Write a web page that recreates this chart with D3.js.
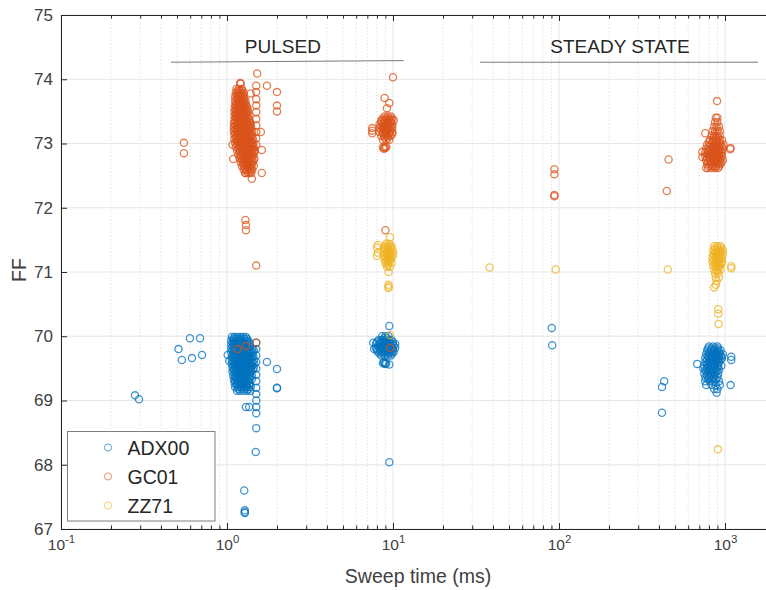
<!DOCTYPE html>
<html><head><meta charset="utf-8">
<script src="https://cdn.jsdelivr.net/npm/d3@7"></script>
<style>
body{margin:0;background:#fff}
svg{display:block}
text{font-family:"Liberation Sans",Arial,Helvetica,sans-serif}
</style>
</head><body>
<svg id="chart" width="766" height="590"></svg>
<script>
// ---------------- DATA ----------------
const seriesNames = ["ADX00", "GC01", "ZZ71"];
const seriesColors = ["#0072BD", "#D95319", "#EDB120"];
const xTickValues = [0.1, 1, 10, 100, 1000];
const xTickExponents = ["-1", "0", "1", "2", "3"];
const yTickValues = [67, 68, 69, 70, 71, 72, 73, 74, 75];
const xLabel = "Sweep time (ms)";
const yLabel = "FF";
const regionLabels = ["PULSED", "STEADY STATE"];

// ADX00: individual points [sweep time, FF]
const adx00Points = [
  [0.279,69.08],[0.295,69.02],[0.51,69.80],[0.535,69.63],[0.598,69.97],[0.615,69.66],[0.688,69.97],[0.707,69.71],
  [1.01,69.71],[1.03,69.62],[1.74,69.60],[2.0,69.49],[2.0,69.20],[2.0,69.19],[1.30,68.90],[1.36,68.90],
  [1.50,68.57],[1.49,68.20],[1.27,67.60],[1.28,67.29],[1.28,67.26],[1.28,67.25],
  [1.50,69.90],[1.50,69.80],[1.50,69.70],[1.50,69.60],[1.50,69.50],[1.50,69.40],[1.50,69.30],[1.50,69.20],
  [1.50,69.10],[1.50,69.00],[1.50,68.90],[1.50,68.80],
  [9.5,70.16],[9.5,68.04],[8.7,69.58],[8.8,69.60],[8.9,69.58],[9.0,69.57],[9.1,69.58],[9.5,69.56],[7.6,69.90],[7.7,69.80],
  [90.4,70.13],[91.0,69.86],
  [417,69.21],[430,69.30],[417,68.81],
  [1090,69.68],[1090,69.63],[1080,69.24],[680,69.57],[890,69.12],[740,69.50]
];
// ADX00 dense clusters: [FF, [sweep times...]]
const adx00Rows = [
  [69.99,[1.07,1.11,1.15,1.20,1.25,1.30]],
  [69.96,[1.09,1.13,1.17,1.22,1.27,1.32]],
  [69.93,[1.06,1.10,1.14,1.19,1.24,1.29,1.34]],
  [69.90,[1.08,1.12,1.16,1.21,1.26,1.32,1.37]],
  [69.87,[1.06,1.10,1.14,1.19,1.24,1.29,1.35]],
  [69.84,[1.08,1.12,1.16,1.21,1.27,1.32,1.38]],
  [69.81,[1.06,1.10,1.14,1.19,1.24,1.30,1.36,1.42]],
  [69.78,[1.08,1.12,1.17,1.22,1.27,1.33,1.39,1.45]],
  [69.75,[1.06,1.10,1.15,1.20,1.25,1.31,1.37,1.43]],
  [69.72,[1.09,1.13,1.17,1.23,1.28,1.34,1.41]],
  [69.69,[1.07,1.11,1.15,1.20,1.26,1.32,1.38,1.44]],
  [69.66,[1.09,1.13,1.18,1.23,1.29,1.35,1.41]],
  [69.63,[1.07,1.11,1.16,1.21,1.26,1.32,1.38,1.45]],
  [69.60,[1.09,1.13,1.18,1.24,1.30,1.36,1.42]],
  [69.57,[1.07,1.11,1.16,1.21,1.27,1.33,1.39,1.45]],
  [69.54,[1.10,1.14,1.19,1.24,1.30,1.36,1.42]],
  [69.51,[1.08,1.12,1.17,1.22,1.27,1.33,1.39,1.45]],
  [69.48,[1.10,1.14,1.19,1.25,1.31,1.37,1.43]],
  [69.45,[1.08,1.12,1.17,1.22,1.28,1.34,1.40]],
  [69.42,[1.11,1.15,1.20,1.26,1.32,1.38]],
  [69.39,[1.09,1.13,1.18,1.23,1.29,1.35,1.41]],
  [69.36,[1.12,1.16,1.21,1.27,1.33,1.38]],
  [69.33,[1.10,1.14,1.19,1.24,1.30,1.36,1.41]],
  [69.30,[1.12,1.17,1.22,1.28,1.34]],
  [69.27,[1.11,1.15,1.20,1.25,1.31,1.37]],
  [69.24,[1.14,1.19,1.24,1.30,1.36]],
  [69.21,[1.12,1.17,1.22,1.27,1.33,1.39]],
  [69.18,[1.17,1.23,1.29,1.35]],
  [69.15,[1.15,1.20,1.26,1.32,1.38]],
  [70.00,[8.6,9.0,9.4]],
  [69.97,[8.8,9.2]],
  [69.94,[8.2,8.6,9.0,9.4,9.8]],
  [69.91,[8.0,8.4,8.8,9.2,9.6,10.0]],
  [69.88,[7.9,8.3,8.7,9.1,9.5,9.9,10.3]],
  [69.85,[8.1,8.5,8.9,9.3,9.7,10.1]],
  [69.82,[7.9,8.3,8.7,9.1,9.5,9.9,10.3]],
  [69.79,[8.0,8.4,8.8,9.2,9.6,10.0]],
  [69.76,[8.1,8.5,8.9,9.3,9.7,10.1]],
  [69.73,[8.3,8.7,9.1,9.5,9.9]],
  [69.70,[8.5,8.9,9.3,9.7]],
  [69.84,[800,850,900]],
  [69.81,[790,830,870,910]],
  [69.78,[780,820,860,900,940]],
  [69.75,[800,840,880,920]],
  [69.72,[770,810,850,890,930,970]],
  [69.69,[790,830,870,910,950]],
  [69.66,[760,800,840,880,920,960]],
  [69.63,[780,820,860,900,940]],
  [69.60,[760,800,840,880,920]],
  [69.57,[780,820,860,900]],
  [69.54,[750,790,830,870,910,950]],
  [69.51,[780,820,860,900]],
  [69.48,[760,800,840,880,920]],
  [69.45,[770,810,850,890]],
  [69.42,[750,790,830,870,910]],
  [69.39,[780,820,860]],
  [69.36,[760,800,850,900]],
  [69.33,[790,840,880]],
  [69.30,[760,810,860,920]],
  [69.24,[770,830,880,930]],
  [69.18,[860,900]]
];

// GC01
const gc01Points = [
  [0.55,73.01],[0.55,72.85],
  [1.52,74.09],[1.74,73.90],[2.0,73.80],[2.0,73.59],[2.0,73.50],[1.08,72.98],[1.09,72.76],[1.29,72.54],
  [1.41,72.45],[1.62,72.54],[1.62,72.90],[1.60,73.18],[1.39,73.78],[1.20,73.94],[1.21,73.93],
  [1.50,73.90],[1.50,73.80],[1.50,73.69],[1.50,73.59],[1.50,73.49],[1.50,73.38],[1.50,73.28],[1.50,73.18],
  [1.50,73.08],[1.50,72.98],
  [1.29,71.81],[1.30,71.73],[1.30,71.65],[1.50,71.10],
  [1.16,69.80],[1.30,69.85],[1.50,69.90],
  [7.5,73.24],[7.5,73.20],[7.5,73.16],[8.9,73.71],[9.5,73.63],[9.2,73.55],[10.0,74.03],
  [8.7,72.94],[8.8,72.92],[8.9,72.94],[9.0,72.93],[9.1,72.95],[9.0,71.65],[9.6,69.82],
  [93.8,72.60],[93.8,72.52],[93.8,72.20],[93.8,72.18],
  [457,72.75],[446,72.26],
  [895,73.66],[1075,72.91],[1080,72.93],[730,72.87],[730,72.79],[760,73.16],[770,72.62],[880,72.64]
];
const gc01Rows = [
  [73.85,[1.14,1.18,1.23]],
  [73.82,[1.16,1.20,1.24]],
  [73.79,[1.13,1.17,1.22,1.26]],
  [73.76,[1.15,1.19,1.24]],
  [73.73,[1.12,1.16,1.21,1.26]],
  [73.70,[1.14,1.18,1.23,1.27]],
  [73.67,[1.12,1.16,1.20,1.25,1.29]],
  [73.64,[1.14,1.18,1.22,1.27]],
  [73.61,[1.12,1.16,1.20,1.25,1.30]],
  [73.58,[1.13,1.17,1.22,1.27,1.31]],
  [73.55,[1.11,1.15,1.19,1.24,1.29,1.33]],
  [73.52,[1.13,1.17,1.22,1.27,1.32]],
  [73.49,[1.11,1.15,1.20,1.25,1.30,1.34]],
  [73.46,[1.13,1.17,1.22,1.27,1.32]],
  [73.43,[1.11,1.15,1.19,1.24,1.29,1.35]],
  [73.40,[1.13,1.17,1.22,1.27,1.33]],
  [73.37,[1.11,1.15,1.20,1.25,1.30,1.36]],
  [73.34,[1.12,1.17,1.22,1.27,1.32,1.37]],
  [73.31,[1.10,1.14,1.19,1.24,1.29,1.35,1.39]],
  [73.28,[1.12,1.16,1.21,1.27,1.33,1.38]],
  [73.25,[1.10,1.14,1.19,1.24,1.30,1.36,1.40]],
  [73.22,[1.12,1.16,1.21,1.27,1.32,1.38]],
  [73.19,[1.10,1.14,1.19,1.24,1.29,1.35,1.41]],
  [73.16,[1.12,1.17,1.22,1.28,1.34,1.39]],
  [73.13,[1.11,1.15,1.20,1.25,1.31,1.37,1.42]],
  [73.10,[1.13,1.18,1.23,1.29,1.35,1.40]],
  [73.07,[1.11,1.16,1.21,1.26,1.32,1.38,1.43]],
  [73.04,[1.14,1.19,1.24,1.30,1.36,1.41]],
  [73.01,[1.12,1.17,1.22,1.27,1.33,1.39,1.44]],
  [72.98,[1.15,1.20,1.25,1.31,1.37,1.42]],
  [72.95,[1.13,1.18,1.23,1.28,1.34,1.40,1.45]],
  [72.92,[1.17,1.22,1.27,1.33,1.39,1.44]],
  [72.89,[1.15,1.20,1.25,1.30,1.36,1.42,1.47]],
  [72.86,[1.19,1.24,1.29,1.35,1.41,1.46]],
  [72.83,[1.17,1.22,1.27,1.32,1.38,1.44]],
  [72.80,[1.21,1.26,1.31,1.36,1.42]],
  [72.77,[1.19,1.24,1.29,1.34,1.40,1.46]],
  [72.74,[1.23,1.28,1.34,1.40,1.45]],
  [72.71,[1.21,1.26,1.31,1.37,1.43]],
  [72.68,[1.25,1.30,1.35,1.41]],
  [72.65,[1.23,1.28,1.33,1.39,1.45]],
  [72.62,[1.28,1.34,1.40]],
  [72.59,[1.26,1.31,1.37,1.42]],
  [72.56,[1.32,1.38]],
  [72.54,[1.29,1.35,1.40]],
  [73.42,[8.9,9.3,9.7]],
  [73.39,[8.7,9.1,9.5,9.9]],
  [73.36,[8.5,8.9,9.3,9.7,10.1]],
  [73.33,[8.5,8.9,9.3,9.7]],
  [73.30,[8.3,8.7,9.1,9.5,9.9]],
  [73.27,[8.5,8.9,9.3,9.7]],
  [73.24,[8.3,8.7,9.1,9.5,9.9]],
  [73.21,[8.5,8.9,9.3,9.7]],
  [73.18,[8.3,8.7,9.1,9.5,9.9]],
  [73.15,[8.7,9.1,9.5,9.9]],
  [73.12,[8.5,8.9,9.3,9.7]],
  [73.09,[8.9,9.3]],
  [73.06,[8.7,9.1,9.5]],
  [73.40,[880,900]],
  [73.33,[870,900]],
  [73.26,[860,890,920]],
  [73.19,[840,870,900,930]],
  [73.12,[830,860,890,930]],
  [73.09,[850,880,910]],
  [73.05,[810,850,890,930,960]],
  [73.02,[800,840,880,920]],
  [72.98,[780,820,860,900,940,980]],
  [72.95,[800,840,880,920,960]],
  [72.92,[770,810,850,890,930,970]],
  [72.89,[790,830,870,910,950]],
  [72.86,[760,800,840,880,920,960]],
  [72.83,[780,820,860,900,940]],
  [72.80,[760,800,840,880,920,960]],
  [72.77,[780,820,860,900,940]],
  [72.74,[770,810,850,890,930,970]],
  [72.71,[790,830,870,910,950]],
  [72.68,[780,820,860,900,940]],
  [72.65,[800,840,880,920]],
  [72.62,[790,830,870,910]]
];

// ZZ71
const zz71Points = [
  [8.1,71.42],[8.0,71.38],[8.1,71.30],[8.0,71.25],[9.6,71.54],[9.4,70.80],[9.4,70.77],[9.4,70.75],[9.6,70.02],[9.4,71.00],
  [38.2,71.07],[95.5,71.04],[452,71.04],
  [1090,71.09],[1090,71.06],[910,70.42],[910,70.35],[915,70.19],[905,68.24],[860,70.76]
];
const zz71Rows = [
  [71.44,[9.1,9.5]],
  [71.41,[9.0,9.4,9.8]],
  [71.38,[8.9,9.3,9.7]],
  [71.35,[9.0,9.4,9.8]],
  [71.32,[8.8,9.2,9.6,10.0]],
  [71.29,[9.0,9.4,9.8]],
  [71.26,[8.8,9.2,9.6,10.0]],
  [71.23,[9.0,9.4,9.8]],
  [71.20,[8.9,9.3,9.7]],
  [71.17,[9.1,9.5]],
  [71.14,[9.0,9.4,9.8]],
  [71.11,[9.3]],
  [71.08,[9.2,9.6]],
  [71.40,[860,900,940]],
  [71.37,[870,910,950]],
  [71.34,[850,890,930,970]],
  [71.31,[870,910,950]],
  [71.28,[850,890,930,970]],
  [71.25,[860,900,940]],
  [71.22,[840,880,920,960]],
  [71.19,[860,900,940]],
  [71.16,[840,880,920,960]],
  [71.13,[870,910,950]],
  [71.10,[850,890,930]],
  [71.07,[880,920]],
  [71.04,[860,900,940]],
  [71.01,[890]],
  [70.98,[870,910]],
  [70.92,[880,920]],
  [70.86,[890]],
  [70.80,[880]]
];

// ---------------- DRAWING ----------------
function fromRows(rows) {
  const out = [];
  rows.forEach(([yv, xs]) => xs.forEach(xv => out.push([xv, yv])));
  return out;
}
const seriesData = [
  fromRows(adx00Rows).concat(adx00Points),
  fromRows(gc01Rows).concat(gc01Points),
  fromRows(zz71Rows).concat(zz71Points)
];

const svg = d3.select("#chart");
const L = 61, T = 15, R = 775, B = 529;
const x = d3.scaleLog().domain([0.1, 2000]).range([L, R]);
const y = d3.scaleLinear().domain([67, 75]).range([B, T]);

const minorX = [];
xTickValues.forEach(d => { for (let k = 2; k <= 9; k++) { const v = k * d; if (v < 2000) minorX.push(v); } });

const axisColor = "#262626";
const labelColor = "#404040";
const markerOpacity = 0.75;
const markerWidth = 1.3;

// grid
const grid = svg.append("g");
grid.selectAll(".mnx").data(minorX).join("line")
  .attr("x1", d => x(d)).attr("x2", d => x(d)).attr("y1", T).attr("y2", B)
  .attr("stroke", "#cfcfcf").attr("stroke-width", 0.8).attr("stroke-dasharray", "1,2.2");
grid.selectAll(".mjx").data(xTickValues).join("line")
  .attr("x1", d => x(d)).attr("x2", d => x(d)).attr("y1", T).attr("y2", B)
  .attr("stroke", "#e6e6e6").attr("stroke-width", 1);
grid.selectAll(".mjy").data(yTickValues).join("line")
  .attr("x1", L).attr("x2", R).attr("y1", d => y(d)).attr("y2", d => y(d))
  .attr("stroke", "#e6e6e6").attr("stroke-width", 1);

// scatter
const plot = svg.append("g");
seriesData.forEach((pts, i) => {
  plot.append("g").selectAll("circle").data(pts).join("circle")
    .attr("cx", d => x(d[0])).attr("cy", d => y(d[1])).attr("r", 3.6)
    .attr("fill", "none").attr("stroke", seriesColors[i])
    .attr("stroke-width", markerWidth).attr("stroke-opacity", markerOpacity);
});

// axes
function styleAxis(g) {
  g.selectAll("path.domain").attr("stroke", axisColor).attr("stroke-width", 1);
  g.selectAll(".tick line").attr("stroke", axisColor).attr("stroke-width", 1);
}
const bottomMajor = svg.append("g").attr("transform", `translate(0,${B})`)
  .call(d3.axisBottom(x).tickValues(xTickValues).tickSizeInner(-6).tickSizeOuter(0).tickFormat(() => ""));
styleAxis(bottomMajor);
const bottomMinor = svg.append("g").attr("transform", `translate(0,${B})`)
  .call(d3.axisBottom(x).tickValues(minorX).tickSizeInner(-3.5).tickSizeOuter(0).tickFormat(() => ""));
styleAxis(bottomMinor);
const topMajor = svg.append("g").attr("transform", `translate(0,${T})`)
  .call(d3.axisTop(x).tickValues(xTickValues).tickSizeInner(-6).tickSizeOuter(0).tickFormat(() => ""));
styleAxis(topMajor);
const topMinor = svg.append("g").attr("transform", `translate(0,${T})`)
  .call(d3.axisTop(x).tickValues(minorX).tickSizeInner(-3.5).tickSizeOuter(0).tickFormat(() => ""));
styleAxis(topMinor);
const leftAxis = svg.append("g").attr("transform", `translate(${L},0)`)
  .call(d3.axisLeft(y).tickValues(yTickValues).tickSizeInner(-6).tickSizeOuter(0).tickPadding(8).tickFormat(d3.format("d")));
styleAxis(leftAxis);
leftAxis.selectAll(".tick text").attr("fill", labelColor).attr("font-size", 17)
  .attr("font-family", "'Liberation Sans', Arial, sans-serif");

// x tick labels with superscripts
bottomMajor.selectAll(".tick text").remove();
bottomMajor.selectAll(".tick").each(function(d) {
  const t = d3.select(this).append("text").attr("y", 21).attr("text-anchor", "middle")
    .attr("fill", labelColor).attr("font-size", 15.5).attr("font-family", "'Liberation Sans', Arial, sans-serif");
  t.append("tspan").text("10");
  t.append("tspan").attr("dy", -7).attr("font-size", 11.5).text(xTickExponents[xTickValues.indexOf(d)]);
});

// axis labels
svg.append("text").attr("x", 418).attr("y", 583).attr("text-anchor", "middle")
  .attr("fill", labelColor).attr("font-size", 19.5).text(xLabel);
svg.append("text").attr("transform", "translate(26,270) rotate(-90)").attr("text-anchor", "middle")
  .attr("fill", labelColor).attr("font-size", 19.5).text(yLabel);

// region annotations
const ann = svg.append("g");
ann.append("line").attr("x1", x(0.46)).attr("x2", x(11.6)).attr("y1", y(74.265)).attr("y2", y(74.29))
  .attr("stroke", "#7a7a7a").attr("stroke-width", 1);
ann.append("line").attr("x1", x(33.4)).attr("x2", x(1581)).attr("y1", y(74.265)).attr("y2", y(74.265))
  .attr("stroke", "#7a7a7a").attr("stroke-width", 1);
ann.append("text").attr("x", x(2.17)).attr("y", y(74.41)).attr("text-anchor", "middle")
  .attr("fill", "#262626").attr("font-size", 19).text(regionLabels[0]);
ann.append("text").attr("x", x(233)).attr("y", y(74.41)).attr("text-anchor", "middle")
  .attr("fill", "#262626").attr("font-size", 19).text(regionLabels[1]);

// legend
const lg = svg.append("g");
lg.append("rect").attr("x", 67.5).attr("y", 431.5).attr("width", 147.5).attr("height", 89.5)
  .attr("fill", "#fff").attr("stroke", "#7f7f7f").attr("stroke-width", 1);
seriesNames.forEach((name, i) => {
  const cy = 447.5 + i * 29;
  lg.append("circle").attr("cx", 108).attr("cy", cy).attr("r", 3.6)
    .attr("fill", "none").attr("stroke", seriesColors[i]).attr("stroke-width", 1).attr("stroke-opacity", 0.65);
  lg.append("text").attr("x", 127.5).attr("y", cy + 7).attr("fill", "#262626")
    .attr("font-size", 19.5).text(name);
});
</script>
</body></html>
